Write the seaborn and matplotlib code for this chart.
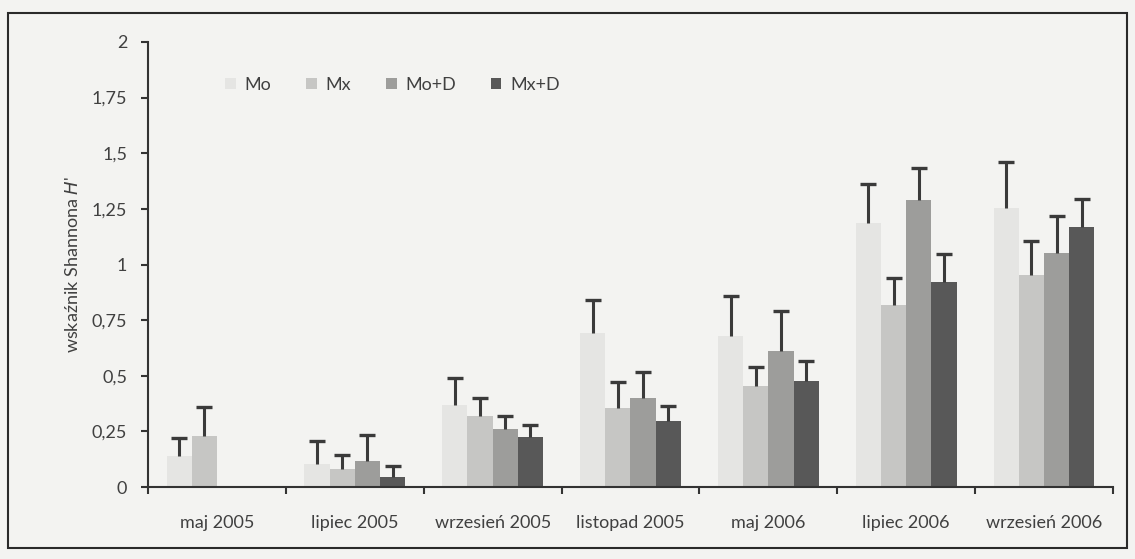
import numpy as np
import pandas as pd
import matplotlib
matplotlib.use("Agg")
import matplotlib.pyplot as plt
import seaborn as sns
from matplotlib.patches import Rectangle

categories = ["maj 2005", "lipiec 2005", "wrzesień 2005", "listopad 2005",
              "maj 2006", "lipiec 2006", "wrzesień 2006"]
series = ["Mo", "Mx", "Mo+D", "Mx+D"]

mo   = [0.14, 0.105, 0.37, 0.69, 0.68, 1.185, 1.255]
mx   = [0.23, 0.08, 0.32, 0.355, 0.455, 0.82, 0.955]
mod  = [0.0, 0.115, 0.26, 0.40, 0.61, 1.29, 1.05]
mxd  = [0.0, 0.045, 0.225, 0.295, 0.475, 0.92, 1.17]

mo_err  = [0.08, 0.10, 0.12, 0.15, 0.18, 0.175, 0.205]
mx_err  = [0.13, 0.065, 0.08, 0.115, 0.085, 0.12, 0.15]
mod_err = [np.nan, 0.12, 0.06, 0.115, 0.18, 0.145, 0.17]
mxd_err = [np.nan, 0.048, 0.055, 0.07, 0.09, 0.125, 0.125]

yticks = [0, 0.25, 0.5, 0.75, 1, 1.25, 1.5, 1.75, 2]
ytick_labels = ["0", "0,25", "0,5", "0,75", "1", "1,25", "1,5", "1,75", "2"]

colors = ["#e5e5e3", "#c6c6c4", "#9d9d9b", "#585858"]

values = [mo, mx, mod, mxd]
errs = [mo_err, mx_err, mod_err, mxd_err]
rows = []
for s, v, e in zip(series, values, errs):
    for c, vv, ee in zip(categories, v, e):
        rows.append({"okres": c, "seria": s, "H": vv, "err": ee})
df = pd.DataFrame(rows)

sns.set_theme(style="white")
plt.rcParams['font.family'] = ['Lato', 'DejaVu Sans']
bg = "#f3f3f1"
txt = "#404040"
fs = 13

fig = plt.figure(figsize=(11.35, 5.59), dpi=100, facecolor=bg)
ax = fig.add_axes([148/1135, 1-487/559, (1113-148)/1135, (487-42)/559])
ax.set_facecolor(bg)

sns.barplot(data=df, x="okres", y="H", hue="seria", order=categories,
            hue_order=series, palette=colors, width=0.73, gap=0,
            errorbar=None, ax=ax, saturation=1, linewidth=0)

# error bars (upper only) at bar centres
for s_i, s in enumerate(series):
    cont = ax.containers[s_i]
    sub = df[df.seria == s].set_index("okres").loc[categories]
    for patch, (_, r) in zip(cont.patches, sub.iterrows()):
        if np.isnan(r["err"]):
            continue
        xc = patch.get_x() + patch.get_width() / 2
        top = r["H"] + r["err"]
        ax.plot([xc, xc], [r["H"], top], color="#3a3a3a", lw=2.2,
                solid_capstyle="butt", zorder=3)
        ax.plot([xc], [top], marker="_", markersize=12, mew=2.4,
                color="#3a3a3a", zorder=3)

ax.set_ylim(0, 2)
ax.set_xlim(-0.5, len(categories) - 0.5)
ax.set_yticks(yticks)
ax.set_yticklabels(ytick_labels)
ax.set_xticks(range(len(categories)))
ax.set_xticklabels(categories)
ax.tick_params(axis="x", length=0, pad=20, labelsize=fs, labelcolor=txt)
ax.tick_params(axis="y", length=5, width=1.5, color="#333333", direction="out",
               left=True, pad=10, labelsize=fs, labelcolor=txt)
ax.set_xticks(np.arange(-0.5, len(categories)), minor=True)
ax.tick_params(axis="x", which="minor", length=5, width=1.5, color="#333333",
               direction="out", bottom=True)

for side in ["top", "right"]:
    ax.spines[side].set_visible(False)
for side in ["left", "bottom"]:
    ax.spines[side].set_color("#333333")
    ax.spines[side].set_linewidth(1.5)

ax.set_xlabel("")
ax.set_ylabel("wskaźnik Shannona $\\mathit{H}$'", fontsize=fs, color=txt, labelpad=8)

handles, labels = ax.get_legend_handles_labels()
ax.legend(handles, labels, ncol=4, frameon=False, loc="center left",
          bbox_to_anchor=(225/1135, 1-85/559), bbox_transform=fig.transFigure,
          borderpad=0, borderaxespad=0,
          handlelength=0.6, handleheight=0.6, handletextpad=0.5,
          columnspacing=1.9, fontsize=fs, labelcolor=txt)

fig.patches.append(Rectangle((8/1135, 1-548/559), (1127-8)/1135, (548-13)/559,
                             transform=fig.transFigure, fill=False,
                             edgecolor="#2a2a2a", linewidth=1.5))

fig.savefig("out.png", dpi=100, facecolor=bg)
